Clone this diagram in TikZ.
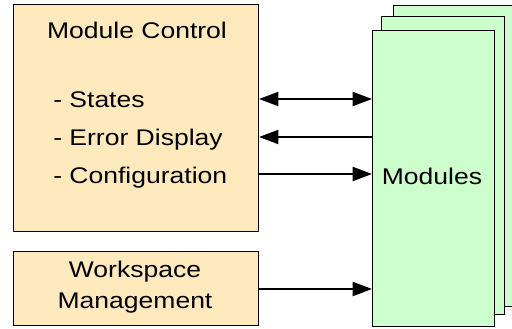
\documentclass[tikz,border=0pt]{standalone}
\usepackage{fontspec}
\setmainfont[FakeStretch=1.17]{Liberation Sans}
\usetikzlibrary{arrows.meta}
\definecolor{ctrlfill}{RGB}{255,234,190}
\definecolor{modfill}{RGB}{204,255,204}

\begin{document}
\begin{tikzpicture}[x=0.75pt,y=-0.75pt,
  box/.style={draw, line width=0.75pt, inner sep=0pt, anchor=north west},
  lbl/.style={font=\fontsize{17}{20}\selectfont, inner sep=0pt},
  link/.style={line width=1.5pt, >={Triangle[length=14.5pt,width=10.5pt]}}]
\useasboundingbox (0,0) rectangle (512,329);
\clip (0,0) rectangle (512,329);
% control boxes
\node[box, fill=ctrlfill, minimum width={245*0.75pt}, minimum height={227*0.75pt}] (mc) at (13,4) {};
\node[box, fill=ctrlfill, minimum width={245*0.75pt}, minimum height={74*0.75pt}] (ws) at (13,251) {};
% stacked modules
\node[box, fill=modfill, minimum width={135*0.75pt}, minimum height={301*0.75pt}] (back) at (393,5) {};
\node[box, fill=modfill, minimum width={123*0.75pt}, minimum height={298*0.75pt}] (mid) at (381,16) {};
\node[box, fill=modfill, minimum width={122*0.75pt}, minimum height={296*0.75pt}] (front) at (372,30) {};
% texts
\node[lbl, anchor=base] (mctitle) at (137,38) {Module Control};
\foreach \n/\y/\t in {st/107/States, er/145/Error Display, cf/183/Configuration}
  \node[lbl, anchor=base west] (\n) at (53,\y) {- \t};
\node[lbl, anchor=base] (wsa) at (135,277) {Workspace};
\node[lbl, anchor=base] (wsb) at (135,308) {Management};
\node[lbl, anchor=base] (modtxt) at (432,184) {Modules};
% connectors
\coordinate (a1) at (0,99);
\coordinate (a2) at (0,137);
\coordinate (a3) at (0,174);
\coordinate (a4) at (0,289);
\draw[link, <->] (mc.east |- a1) -- (front.west |- a1);
\draw[link, <-] (mc.east |- a2) -- (front.west |- a2);
\draw[link, ->] (mc.east |- a3) -- (front.west |- a3);
\draw[link, ->] (ws.east |- a4) -- (front.west |- a4);
\end{tikzpicture}
\end{document}
